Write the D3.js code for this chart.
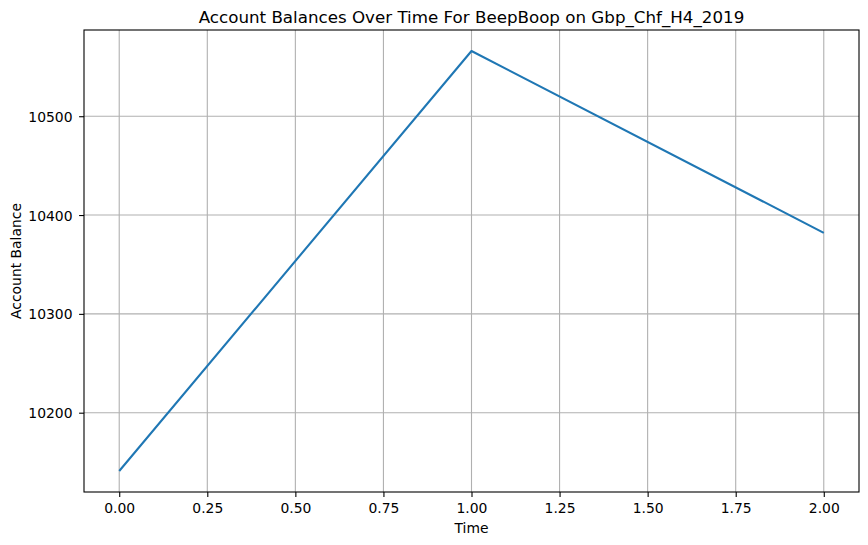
<!DOCTYPE html>
<html><head><meta charset="utf-8">
<script src="https://cdn.jsdelivr.net/npm/d3@7"></script>
<style>body{margin:0;background:#fff;} text{font-family:"DejaVu Sans",sans-serif;fill:#000;}</style>
</head><body>
<svg id="c" width="868" height="545"></svg>
<script>
const times = [0, 1, 2];
const balances = [10141, 10566, 10382];
const xTicks = [0, 0.25, 0.5, 0.75, 1.0, 1.25, 1.5, 1.75, 2.0];
const yTicks = [10200, 10300, 10400, 10500];
const titleText = "Account Balances Over Time For BeepBoop on Gbp_Chf_H4_2019";

const L = 84, R = 859, T = 30, B = 492;
const svg = d3.select("#c");
const xmin = d3.min(times), xmax = d3.max(times), xm = (xmax - xmin) * 0.05;
const ymin = d3.min(balances), ymax = d3.max(balances), ym = (ymax - ymin) * 0.05;
const x = d3.scaleLinear().domain([xmin - xm, xmax + xm]).range([L, R]);
const y = d3.scaleLinear().domain([ymin - ym, ymax + ym]).range([B, T]);

// grid
svg.append("g").selectAll("line").data(xTicks).join("line")
  .attr("x1", d => x(d)).attr("x2", d => x(d)).attr("y1", T).attr("y2", B)
  .attr("stroke", "#b0b0b0").attr("stroke-width", 1.1);
svg.append("g").selectAll("line").data(yTicks).join("line")
  .attr("y1", d => y(d)).attr("y2", d => y(d)).attr("x1", L).attr("x2", R)
  .attr("stroke", "#b0b0b0").attr("stroke-width", 1.1);

// line
svg.append("path").datum(times.map((t, i) => [t, balances[i]]))
  .attr("fill", "none").attr("stroke", "#1f77b4").attr("stroke-width", 2.08)
  .attr("stroke-linejoin", "round").attr("stroke-linecap", "butt")
  .attr("d", d3.line().x(d => x(d[0])).y(d => y(d[1])));

// axes
const xAxis = d3.axisBottom(x).tickValues(xTicks).tickFormat(d3.format(".2f")).tickSize(4.9).tickPadding(4.9);
const yAxis = d3.axisLeft(y).tickValues(yTicks).tickFormat(d3.format("d")).tickSize(4.9).tickPadding(4.9);
const gx = svg.append("g").attr("transform", `translate(0,${B})`).call(xAxis);
const gy = svg.append("g").attr("transform", `translate(${L},0)`).call(yAxis);
[gx, gy].forEach(g => {
  g.select(".domain").remove();
  g.selectAll("line").attr("stroke", "#000").attr("stroke-width", 1.1);
  g.selectAll("text").attr("font-size", 13.9).attr("font-family", "DejaVu Sans").attr("fill", "#000");
});
gx.selectAll("text").attr("y", 513.3 - B).attr("dy", null);
gy.selectAll("text").attr("x", -11.5).attr("dy", "0.36em");

// frame
svg.append("rect").attr("x", L).attr("y", T).attr("width", R - L).attr("height", B - T)
  .attr("fill", "none").attr("stroke", "#000").attr("stroke-width", 1.1);

// labels
svg.append("text").attr("x", (L + R) / 2).attr("y", 22.7).attr("text-anchor", "middle")
  .attr("font-size", 16.7).text(titleText);
svg.append("text").attr("x", (L + R) / 2).attr("y", 533.3).attr("text-anchor", "middle")
  .attr("font-size", 13.9).text("Time");
svg.append("text").attr("transform", `translate(20.5,${(T + B) / 2}) rotate(-90)`).attr("text-anchor", "middle")
  .attr("font-size", 13.9).text("Account Balance");
</script>
</body></html>
